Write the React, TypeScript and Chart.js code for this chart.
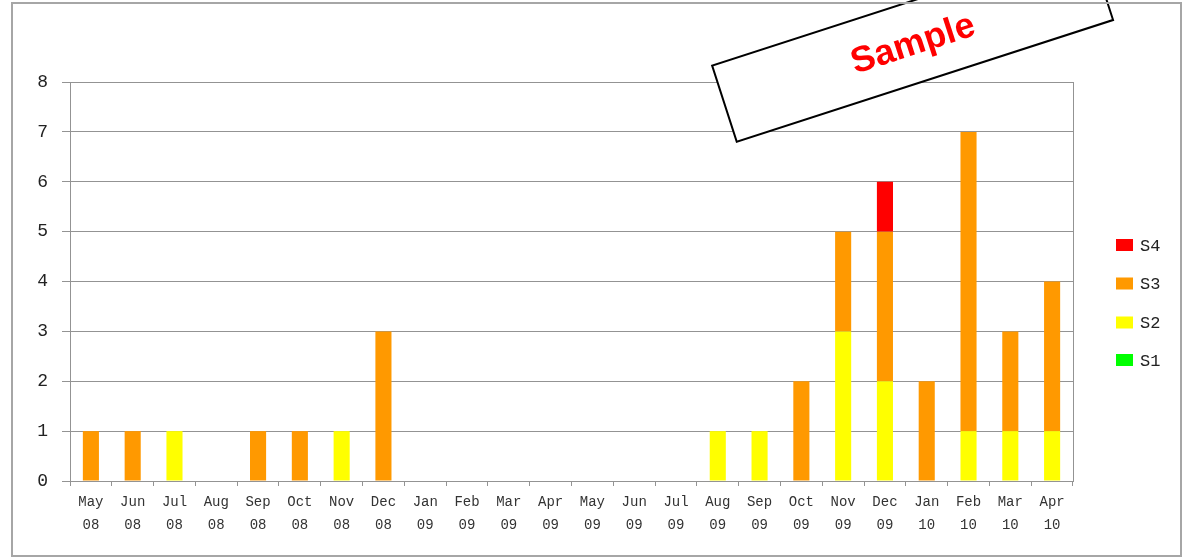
import React, { useEffect, useRef } from "react";
import { Chart, registerables } from "chart.js";

Chart.register(...registerables);

const categories: string[][] = [
  ["May", "08"], ["Jun", "08"], ["Jul", "08"], ["Aug", "08"], ["Sep", "08"], ["Oct", "08"],
  ["Nov", "08"], ["Dec", "08"], ["Jan", "09"], ["Feb", "09"], ["Mar", "09"], ["Apr", "09"],
  ["May", "09"], ["Jun", "09"], ["Jul", "09"], ["Aug", "09"], ["Sep", "09"], ["Oct", "09"],
  ["Nov", "09"], ["Dec", "09"], ["Jan", "10"], ["Feb", "10"], ["Mar", "10"], ["Apr", "10"],
];

const s1 = [0, 0, 0, 0, 0, 0, 0, 0, 0, 0, 0, 0, 0, 0, 0, 0, 0, 0, 0, 0, 0, 0, 0, 0];
const s2 = [0, 0, 1, 0, 0, 0, 1, 0, 0, 0, 0, 0, 0, 0, 0, 1, 1, 0, 3, 2, 0, 1, 1, 1];
const s3 = [1, 1, 0, 0, 1, 1, 0, 3, 0, 0, 0, 0, 0, 0, 0, 0, 0, 2, 2, 3, 2, 6, 2, 3];
const s4 = [0, 0, 0, 0, 0, 0, 0, 0, 0, 0, 0, 0, 0, 0, 0, 0, 0, 0, 0, 1, 0, 0, 0, 0];

const seriesNames = ["S1", "S2", "S3", "S4"];
const seriesColors = ["#00FF00", "#FFFF00", "#FF9900", "#FF0000"];
const yMin = 0;
const yMax = 8;
const yStep = 1;
const watermark = "Sample";

const GRID = "#939393";
const TICK_FONT = '"Liberation Mono", "DejaVu Sans Mono", monospace';

const overlayPlugin = {
  id: "overlay",
  afterDraw(chart: any) {
    const ctx = chart.ctx;
    const a = chart.chartArea;
    ctx.save();
    // right border of plot area
    ctx.strokeStyle = GRID;
    ctx.lineWidth = 1;
    ctx.beginPath();
    ctx.moveTo(Math.round(a.right) + 0.5, a.top);
    ctx.lineTo(Math.round(a.right) + 0.5, a.bottom);
    ctx.stroke();

    // legend (reversed order)
    const ys = [245, 283.5, 322.5, 360];
    const order = [3, 2, 1, 0];
    ctx.font = "17px " + TICK_FONT;
    ctx.textBaseline = "middle";
    ctx.textAlign = "left";
    order.forEach((idx, i) => {
      const cy = ys[i];
      ctx.fillStyle = seriesColors[idx];
      ctx.fillRect(1116, cy - 6, 17, 12);
      ctx.fillStyle = "#222";
      ctx.fillText(seriesNames[idx], 1140, cy + 1);
    });

    // watermark box
    ctx.translate(912.6, 42.8);
    ctx.rotate((-17.92 * Math.PI) / 180);
    ctx.fillStyle = "#ffffff";
    ctx.fillRect(-197.75, -40, 395.5, 80);
    ctx.strokeStyle = "#000000";
    ctx.lineWidth = 2;
    ctx.strokeRect(-197.75, -40, 395.5, 80);
    ctx.fillStyle = "#FF0000";
    ctx.font = 'bold 36px "Liberation Sans", Arial, sans-serif';
    ctx.textAlign = "center";
    ctx.textBaseline = "middle";
    ctx.fillText(watermark, 0, 2);
    ctx.setTransform(1, 0, 0, 1, 0, 0);

    // outer border
    ctx.strokeStyle = "#a6a6a6";
    ctx.lineWidth = 2;
    ctx.strokeRect(12, 3, 1169, 553);
    ctx.restore();
  },
};

export default function App() {
  const ref = useRef<HTMLCanvasElement | null>(null);

  useEffect(() => {
    if (!ref.current) return;
    const chart = new Chart(ref.current, {
      type: "bar",
      data: {
        labels: categories,
        datasets: seriesNames.map((name, i) => ({
          label: name,
          data: [s1, s2, s3, s4][i],
          backgroundColor: seriesColors[i],
          borderWidth: 0,
          barPercentage: 0.385,
          categoryPercentage: 1,
        })),
      },
      options: {
        responsive: false,
        animation: false,
        devicePixelRatio: 1,
        layout: { padding: { left: 0, top: 82, right: 109, bottom: 0 } },
        plugins: {
          legend: { display: false },
          tooltip: { enabled: false },
        },
        scales: {
          x: {
            stacked: true,
            offset: true,
            afterFit: (scale: any) => {
              scale.height = 77;
            },
            grid: {
              offset: true,
              drawOnChartArea: false,
              drawTicks: true,
              tickLength: 5,
              color: GRID,
            },
            border: { display: true, color: GRID },
            ticks: {
              autoSkip: false,
              maxRotation: 0,
              minRotation: 0,
              padding: 5,
              color: "#333",
              font: { family: TICK_FONT, size: 14, lineHeight: "23px" },
            },
          },
          y: {
            stacked: true,
            min: yMin,
            max: yMax,
            afterFit: (scale: any) => {
              scale.width = 70;
            },
            grid: {
              color: GRID,
              drawTicks: true,
              tickLength: 8,
            },
            border: { display: true, color: GRID },
            ticks: {
              stepSize: yStep,
              padding: 14,
              color: "#222",
              font: { family: TICK_FONT, size: 18 },
            },
          },
        },
      },
      plugins: [overlayPlugin],
    } as any);
    return () => chart.destroy();
  }, []);

  return (
    <div style={{ position: "fixed", left: 0, top: 0, width: 1182, height: 558, background: "#fff" }}>
      <canvas ref={ref} width={1182} height={558} style={{ display: "block" }} />
    </div>
  );
}
